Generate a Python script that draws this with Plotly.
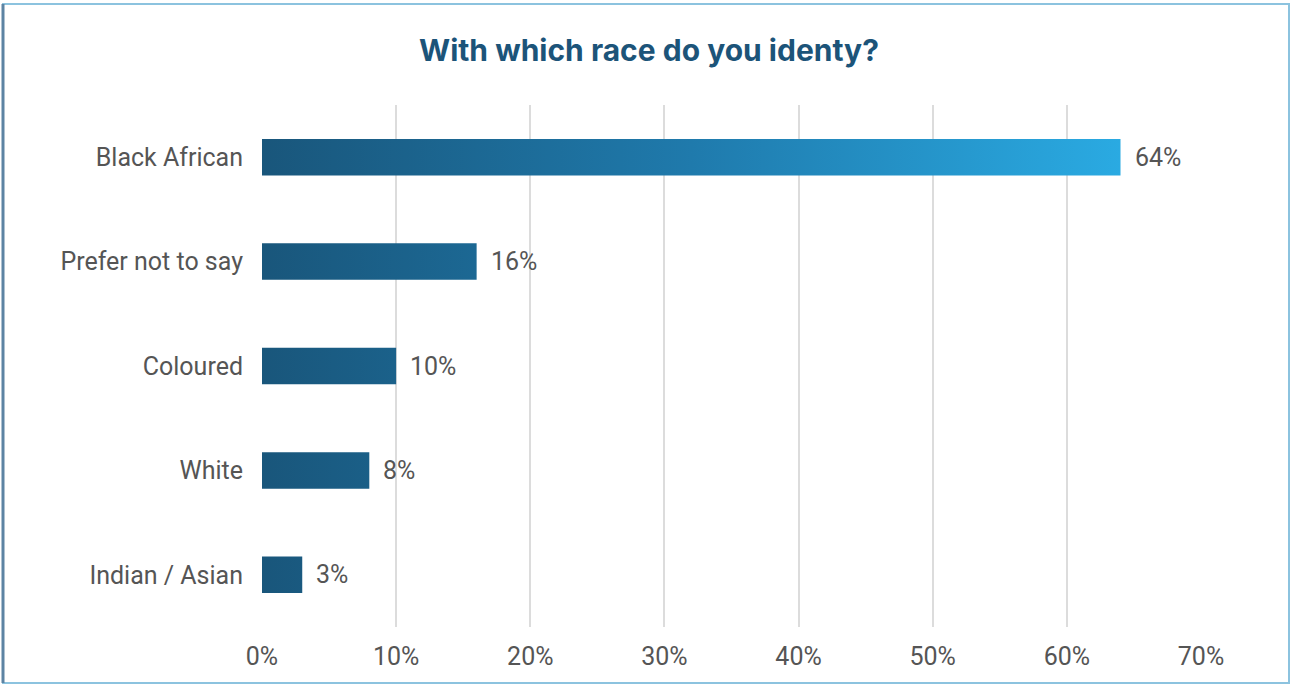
import plotly.graph_objects as go

# Survey responses (percent of respondents)
categories = ["Black African", "Prefer not to say", "Coloured", "White", "Indian / Asian"]
values = [64, 16, 10, 8, 3]
x_ticks = [0, 10, 20, 30, 40, 50, 60, 70]
x_ticklabels = [f"{t}%" for t in x_ticks]

title_text = "With which race do you identy?"
bar_half = 0.175
label_font = dict(family="Roboto", size=25, color="#555555")

fig = go.Figure()

# Each bar is a filled rectangle sharing one horizontal gradient from 0 to the largest value
vmax = max(values)
for i, (cat, v) in enumerate(zip(categories, values)):
    fig.add_trace(go.Scatter(
        x=[0, v, v, 0, 0],
        y=[i - bar_half, i - bar_half, i + bar_half, i + bar_half, i - bar_half],
        mode="lines",
        line=dict(width=0),
        fill="toself",
        fillgradient=dict(
            type="horizontal",
            colorscale=[[0, "#19567b"], [0.5, "#1f7aac"], [1, "#2aaae2"]],
            start=0,
            stop=vmax,
        ),
        hoverinfo="text",
        text=f"{cat}: {v}%",
        showlegend=False,
    ))
    fig.add_annotation(
        x=v, y=i, text=f"{v}%", showarrow=False,
        xanchor="left", xshift=12, font=label_font,
    )

plot_l, plot_r, plot_t, plot_b = 262, 91, 105, 59
W, H = 1292, 686
pw = W - plot_l - plot_r
ph = H - plot_t - plot_b

fig.update_layout(
    width=W, height=H,
    margin=dict(l=plot_l, r=plot_r, t=plot_t, b=plot_b),
    paper_bgcolor="white",
    plot_bgcolor="white",
    title=dict(
        text=f"<b>{title_text}</b>",
        x=649 / W, xref="container", xanchor="center",
        y=1 - 50 / H, yref="container", yanchor="middle",
        font=dict(family="Inter", size=30, color="#1c5479"),
    ),
    xaxis=dict(
        range=[0, 70],
        tickvals=x_ticks,
        ticktext=x_ticklabels,
        showgrid=True,
        gridcolor="#dcdcdc",
        gridwidth=1.5,
        zeroline=False,
        showline=False,
        ticks="",
        tickfont=label_font,
        ticklabelstandoff=12,
    ),
    yaxis=dict(
        range=[len(categories) - 0.5, -0.5],
        tickvals=list(range(len(categories))),
        ticktext=categories,
        showgrid=False,
        zeroline=False,
        showline=False,
        ticks="",
        tickfont=label_font,
        ticklabelstandoff=18,
    ),
)

# Frame around the whole card
fx0 = (3 - plot_l) / pw
fx1 = (W - 3 - plot_l) / pw
fy0 = -(H - 3 - plot_t - ph) / ph
fy1 = 1 + (plot_t - 4) / ph
fig.add_shape(type="rect", xref="paper", yref="paper",
              x0=fx0, x1=fx1, y0=fy0, y1=fy1,
              line=dict(color="#8cc3df", width=2), layer="below")
fig.add_shape(type="line", xref="paper", yref="paper",
              x0=fx0, x1=fx0, y0=fy0, y1=fy1,
              line=dict(color="#5d84a3", width=3))

fig.write_html("out.html")
